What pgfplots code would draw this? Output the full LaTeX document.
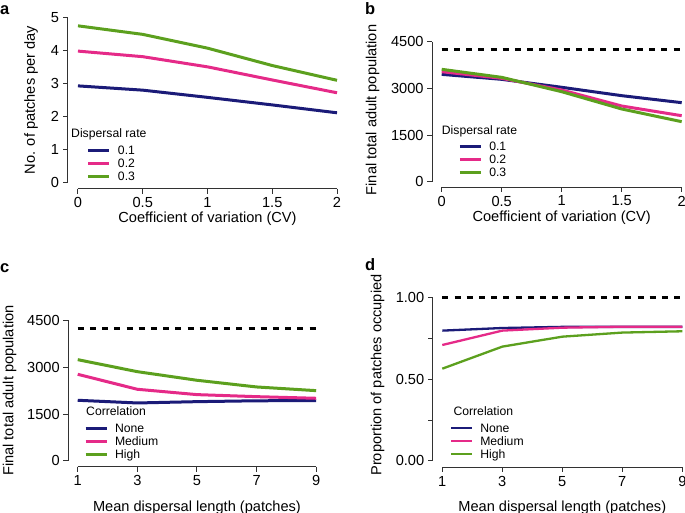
\documentclass[border=0pt]{standalone}
\usepackage{fontspec}
\setmainfont{Liberation Sans}
\usepackage{pgfplots}
\pgfplotsset{compat=1.18}

\definecolor{cnavy}{RGB}{27,27,120}
\definecolor{cpink}{RGB}{229,42,136}
\definecolor{cgreen}{RGB}{92,160,30}
\definecolor{caxis}{RGB}{50,50,50}

\pgfplotsset{
 rstyle/.style={
  scale only axis, anchor=south west,
  axis line style={draw=none},
  major tick length=0pt,
  xtick pos=bottom, ytick pos=left,
  xticklabel style={yshift=-5pt},
  yticklabel style={xshift=-5pt},
  every tick label/.append style={font=\fontsize{14.6}{16}\selectfont, text=black},
  label style={font=\fontsize{14.6}{16}\selectfont},
  clip=false,
  legend cell align=left,
  legend style={draw=none, fill=none, inner sep=0pt, outer sep=0pt, anchor=north west,
    font=\fontsize{12.2}{13}\selectfont,
    nodes={inner sep=0pt, text height=9pt, text depth=1pt},
    row sep=3pt, column sep=7pt},
  legend image code/.code={\draw[#1] (0pt,0pt) -- (21pt,0pt);},
 },
 axln/.style={caxis, line width=1pt, forget plot},
 xtk/.style={only marks, forget plot, mark=|, mark size=2.5pt, mark options={draw=caxis, line width=1pt, yshift=-2.5pt}},
 ytk/.style={only marks, forget plot, mark=-, mark size=2.5pt, mark options={draw=caxis, line width=1pt, xshift=-2.5pt}},
}

\begin{document}
\begin{tikzpicture}
\path[use as bounding box] (0pt,0pt) rectangle (685pt,513pt);

% ---------- panel a ----------
\begin{axis}[rstyle, at={(67.6pt,324.4pt)}, width=279.8pt, height=177.2pt,
  xmin=-0.08, xmax=2.08, ymin=-0.2, ymax=5.2,
  xtick={0,0.5,1,1.5,2}, xticklabels={0,0.5,1,1.5,2},
  ytick={0,1,2,3,4,5}, yticklabels={0,1,2,3,4,5},
  xlabel={Coefficient of variation (CV)}, ylabel={No. of patches per day},
  xlabel style={at={(axis description cs:0.5,-0.1586)}, anchor=center, yshift=-2pt},
  ylabel style={at={(axis description cs:-0.1308,0.5)}, anchor=center},
  legend style={at={(0.0693,0.2421)}}]
\addplot[axln] coordinates {(0,-0.2) (2,-0.2)};
\addplot[axln] coordinates {(-0.08,0) (-0.08,5)};
\addplot[xtk] coordinates {(0,-0.2) (0.5,-0.2) (1,-0.2) (1.5,-0.2) (2,-0.2)};
\addplot[ytk] coordinates {(-0.08,0) (-0.08,1) (-0.08,2) (-0.08,3) (-0.08,4) (-0.08,5)};
\addplot[cnavy, line width=3pt] coordinates {(0,2.93) (0.5,2.80) (1,2.58) (1.5,2.35) (2,2.11)};
\addplot[cpink, line width=3pt] coordinates {(0,3.99) (0.5,3.82) (1,3.51) (1.5,3.11) (2,2.72)};
\addplot[cgreen, line width=3pt] coordinates {(0,4.76) (0.5,4.50) (1,4.08) (1.5,3.55) (2,3.10)};
\legend{0.1,0.2,0.3}
\end{axis}

% ---------- panel b ----------
\begin{axis}[rstyle, at={(432.1pt,325.7pt)}, width=259.2pt, height=151.2pt,
  xmin=-0.08, xmax=2.08, ymin=-180, ymax=4680,
  xtick={0,0.5,1,1.5,2}, xticklabels={0,0.5,1,1.5,2},
  ytick={0,1500,3000,4500}, yticklabels={0,1500,3000,4500},
  xlabel={Coefficient of variation (CV)}, ylabel={Final total adult population},
  xlabel style={at={(axis description cs:0.5,-0.190)}, anchor=center, yshift=-2pt},
  ylabel style={at={(axis description cs:-0.230,0.511)}, anchor=center},
  legend style={at={(0.1011,0.3016)}}]
\addplot[axln] coordinates {(0,-180) (2,-180)};
\addplot[axln] coordinates {(-0.08,0) (-0.08,4500)};
\addplot[xtk] coordinates {(0,-180) (0.5,-180) (1,-180) (1.5,-180) (2,-180)};
\addplot[ytk] coordinates {(-0.08,0) (-0.08,1500) (-0.08,3000) (-0.08,4500)};
\addplot[black, line width=3.5pt, dash pattern=on 6pt off 6.2pt, forget plot] coordinates {(0,4250) (2,4250)};
\addplot[cnavy, line width=3pt] coordinates {(0,3450) (0.5,3290) (1,3034) (1.5,2765) (2,2540)};
\addplot[cpink, line width=3pt] coordinates {(0,3536) (0.5,3322) (1,2947) (1.5,2433) (2,2121)};
\addplot[cgreen, line width=3pt] coordinates {(0,3612) (0.5,3354) (1,2893) (1.5,2337) (2,1929)};
\legend{0.1,0.2,0.3}
\end{axis}

% ---------- panel c ----------
\begin{axis}[rstyle, at={(68.2pt,46.4pt)}, width=257.5pt, height=151.96pt,
  xmin=0.68, xmax=9.32, ymin=-180, ymax=4680,
  xtick={1,3,5,7,9}, xticklabels={1,3,5,7,9},
  ytick={0,1500,3000,4500}, yticklabels={0,1500,3000,4500},
  xlabel={Mean dispersal length (patches)}, ylabel={Final total adult population},
  xlabel style={at={(axis description cs:0.5,-0.2547)}, anchor=center, yshift=-2pt},
  ylabel style={at={(axis description cs:-0.228,0.5)}, anchor=center},
  legend style={at={(0.0614,0.285)}}]
\addplot[axln] coordinates {(1,-180) (9,-180)};
\addplot[axln] coordinates {(0.68,0) (0.68,4500)};
\addplot[xtk] coordinates {(1,-180) (3,-180) (5,-180) (7,-180) (9,-180)};
\addplot[ytk] coordinates {(0.68,0) (0.68,1500) (0.68,3000) (0.68,4500)};
\addplot[black, line width=3.5pt, dash pattern=on 6pt off 6.2pt, forget plot] coordinates {(1,4235) (9,4235)};
\addplot[cnavy, line width=3pt] coordinates {(1,1941) (3,1855) (5,1897) (7,1925) (9,1930)};
\addplot[cpink, line width=3pt] coordinates {(1,2772) (3,2293) (5,2122) (7,2057) (9,2005)};
\addplot[cgreen, line width=3pt] coordinates {(1,3240) (3,2856) (5,2581) (7,2367) (9,2249)};
\legend{None,Medium,High}
\end{axis}

% ---------- panel d ----------
\begin{axis}[rstyle, at={(432.7pt,45.5pt)}, width=259.2pt, height=176.4pt,
  xmin=0.68, xmax=9.32, ymin=-0.04, ymax=1.04,
  xtick={1,3,5,7,9}, xticklabels={1,3,5,7,9},
  ytick={0,0.25,0.5,0.75,1}, yticklabels={0.00,,0.50,,1.00},
  xlabel={Mean dispersal length (patches)}, ylabel={Proportion of patches occupied},
  xlabel style={at={(axis description cs:0.5,-0.214)}, anchor=center, yshift=-2pt},
  ylabel style={at={(axis description cs:-0.213,0.524)}, anchor=center},
  legend style={at={(0.0667,0.2506)}}]
\addplot[axln] coordinates {(1,-0.04) (9,-0.04)};
\addplot[axln] coordinates {(0.68,0) (0.68,1)};
\addplot[xtk] coordinates {(1,-0.04) (3,-0.04) (5,-0.04) (7,-0.04) (9,-0.04)};
\addplot[ytk] coordinates {(0.68,0) (0.68,0.25) (0.68,0.5) (0.68,0.75) (0.68,1)};
\addplot[black, line width=3.5pt, dash pattern=on 6pt off 6.2pt, forget plot] coordinates {(1,1) (9,1)};
\addplot[cnavy, line width=2.3pt] coordinates {(1,0.798) (3,0.814) (5,0.821) (7,0.821) (9,0.821)};
\addplot[cpink, line width=2.3pt] coordinates {(1,0.710) (3,0.798) (5,0.816) (7,0.822) (9,0.822)};
\addplot[cgreen, line width=2.3pt] coordinates {(1,0.565) (3,0.700) (5,0.761) (7,0.786) (9,0.794)};
\legend{None,Medium,High}
\end{axis}

% legend titles
\node[anchor=base west, inner sep=0pt, font=\fontsize{12.2}{13}\selectfont] at (71pt,375.3pt) {Dispersal rate};
\node[anchor=base west, inner sep=0pt, font=\fontsize{12.2}{13}\selectfont] at (441.7pt,378pt) {Dispersal rate};
\node[anchor=base west, inner sep=0pt, font=\fontsize{12.2}{13}\selectfont] at (86pt,97.7pt) {Correlation};
\node[anchor=base west, inner sep=0pt, font=\fontsize{12.2}{13}\selectfont] at (453.3pt,97.7pt) {Correlation};

% panel letters
\node[anchor=base west, inner sep=0pt, font=\fontsize{16.5}{18}\selectfont\bfseries] at (0pt,498pt) {a};
\node[anchor=base west, inner sep=0pt, font=\fontsize{16.5}{18}\selectfont\bfseries] at (365pt,498pt) {b};
\node[anchor=base west, inner sep=0pt, font=\fontsize{16.5}{18}\selectfont\bfseries] at (0pt,240pt) {c};
\node[anchor=base west, inner sep=0pt, font=\fontsize{16.5}{18}\selectfont\bfseries] at (365pt,242pt) {d};
\end{tikzpicture}
\end{document}
